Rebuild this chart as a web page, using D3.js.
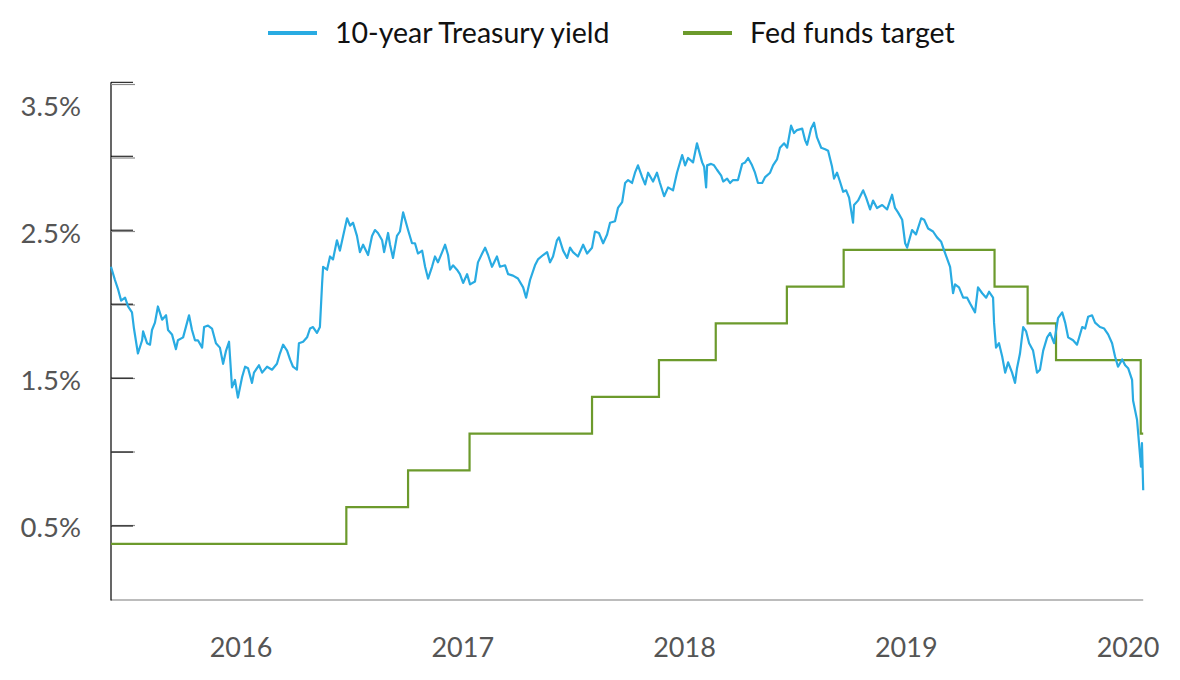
<!DOCTYPE html>
<html>
<head>
<meta charset="utf-8">
<script src="https://cdn.jsdelivr.net/npm/d3@7"></script>
<style>
html,body{margin:0;padding:0;background:#fff;}
svg{display:block;}
</style>
</head>
<body>
<svg id="chart" width="1180" height="680"></svg>
<script>
// ---- data (time as decimal years) ----
const seriesNames = ["10-year Treasury yield", "Fed funds target"];
const yearLabels = ["2016", "2017", "2018", "2019", "2020"];
const yTickValues = [0.5, 1.0, 1.5, 2.0, 2.5, 3.0, 3.5];
const yLabelValues = [0.5, 1.5, 2.5, 3.5];

const yieldTime = [
2016.000,2016.016,2016.028,2016.041,2016.057,2016.069,2016.085,2016.093,2016.109,2016.126,2016.130,2016.146,2016.158,2016.166,2016.178,2016.190,2016.207,2016.223,2016.231,2016.247,2016.263,2016.271,2016.292,2016.308,2016.316,2016.328,2016.340,2016.352,2016.369,2016.377,2016.393,2016.409,2016.425,2016.441,2016.454,2016.466,2016.478,2016.490,2016.502,2016.514,2016.531,2016.543,2016.555,2016.571,2016.579,2016.599,2016.612,2016.632,2016.652,2016.672,2016.684,2016.697,2016.713,2016.725,2016.737,2016.753,2016.761,2016.778,2016.794,2016.806,2016.818,2016.834,2016.846,2016.855,2016.859,2016.875,2016.887,2016.899,2016.915,2016.927,2016.940,2016.956,2016.968,2016.980,2016.996,
2017.008,2017.021,2017.041,2017.057,2017.069,2017.081,2017.098,2017.106,2017.122,2017.130,2017.142,2017.158,2017.170,2017.183,2017.203,2017.219,2017.231,2017.243,2017.260,2017.272,2017.284,2017.300,2017.312,2017.324,2017.341,2017.353,2017.365,2017.373,2017.385,2017.401,2017.413,2017.426,2017.442,2017.454,2017.474,2017.486,2017.503,2017.515,2017.527,2017.543,2017.563,2017.575,2017.596,2017.608,2017.628,2017.648,2017.669,2017.681,2017.697,2017.717,2017.729,2017.750,2017.766,2017.778,2017.790,2017.806,2017.814,2017.831,2017.847,2017.859,2017.871,2017.891,2017.912,2017.928,2017.948,2017.960,2017.976,2017.993,
2018.009,2018.021,2018.041,2018.053,2018.070,2018.082,2018.094,2018.110,2018.122,2018.134,2018.151,2018.163,2018.175,2018.195,2018.211,2018.223,2018.240,2018.256,2018.276,2018.292,2018.313,2018.325,2018.337,2018.357,2018.373,2018.381,2018.394,2018.402,2018.410,2018.414,2018.430,2018.442,2018.454,2018.471,2018.479,2018.495,2018.507,2018.519,2018.539,2018.556,2018.568,2018.580,2018.596,2018.608,2018.620,2018.637,2018.649,2018.669,2018.681,2018.697,2018.709,2018.726,2018.738,2018.754,2018.766,2018.778,2018.799,2018.811,2018.819,2018.835,2018.847,2018.859,2018.876,2018.892,2018.904,2018.920,2018.928,2018.940,2018.952,2018.965,2018.977,2018.989,
2019.005,2019.009,2019.025,2019.046,2019.058,2019.074,2019.086,2019.102,2019.123,2019.143,2019.163,2019.175,2019.187,2019.204,2019.216,2019.224,2019.244,2019.260,2019.281,2019.293,2019.309,2019.329,2019.345,2019.362,2019.374,2019.398,2019.410,2019.418,2019.434,2019.451,2019.467,2019.479,2019.499,2019.511,2019.528,2019.544,2019.556,2019.572,2019.576,2019.584,2019.596,2019.609,2019.621,2019.633,2019.649,2019.661,2019.669,2019.681,2019.694,2019.706,2019.718,2019.734,2019.750,2019.762,2019.775,2019.791,2019.803,2019.819,2019.835,2019.852,2019.864,2019.876,2019.896,2019.912,2019.933,2019.945,2019.957,2019.973,2019.985,
2020.005,2020.022,2020.038,2020.054,2020.066,2020.078,2020.095,2020.107,2020.119,2020.135,2020.139,2020.155,2020.163,2020.171,2020.175,2020.180
];
const yieldValue = [
2.26,2.17,2.11,2.03,2.05,1.99,1.95,1.84,1.67,1.76,1.82,1.74,1.73,1.83,1.88,1.99,1.90,1.93,1.83,1.80,1.70,1.76,1.78,1.88,1.93,1.83,1.76,1.76,1.71,1.85,1.86,1.84,1.74,1.71,1.60,1.69,1.75,1.44,1.49,1.37,1.51,1.58,1.57,1.47,1.54,1.59,1.54,1.58,1.56,1.60,1.67,1.73,1.69,1.63,1.58,1.56,1.74,1.75,1.78,1.84,1.85,1.81,1.85,2.15,2.26,2.24,2.33,2.31,2.44,2.37,2.47,2.59,2.54,2.56,2.47,
2.36,2.41,2.34,2.47,2.51,2.49,2.44,2.36,2.49,2.41,2.32,2.47,2.50,2.63,2.51,2.42,2.42,2.35,2.37,2.26,2.18,2.26,2.33,2.29,2.36,2.41,2.34,2.24,2.27,2.24,2.21,2.15,2.21,2.14,2.16,2.29,2.35,2.39,2.34,2.26,2.33,2.26,2.27,2.21,2.20,2.18,2.12,2.05,2.17,2.27,2.31,2.34,2.36,2.29,2.33,2.44,2.46,2.37,2.32,2.39,2.36,2.33,2.41,2.35,2.39,2.50,2.49,2.42,
2.48,2.56,2.57,2.66,2.70,2.83,2.85,2.83,2.90,2.95,2.87,2.82,2.90,2.84,2.90,2.83,2.74,2.80,2.78,2.90,3.02,2.95,3.00,2.97,3.10,3.05,2.97,2.94,2.80,2.95,2.96,2.95,2.92,2.88,2.84,2.86,2.83,2.85,2.85,2.96,2.97,3.00,2.95,2.90,2.83,2.83,2.87,2.90,2.95,2.99,3.07,3.10,3.07,3.22,3.17,3.19,3.20,3.12,3.09,3.20,3.24,3.14,3.07,3.06,3.05,2.94,2.86,2.90,2.84,2.77,2.78,2.73,
2.56,2.68,2.71,2.78,2.73,2.65,2.71,2.66,2.68,2.65,2.75,2.66,2.63,2.58,2.42,2.39,2.51,2.48,2.59,2.58,2.52,2.50,2.46,2.43,2.37,2.26,2.08,2.14,2.12,2.05,2.05,2.01,1.95,2.12,2.08,2.05,2.09,2.05,1.88,1.71,1.74,1.65,1.54,1.61,1.54,1.47,1.57,1.67,1.85,1.82,1.74,1.69,1.54,1.56,1.69,1.78,1.81,1.74,1.91,1.95,1.88,1.78,1.76,1.73,1.85,1.84,1.92,1.93,1.88,
1.85,1.84,1.80,1.74,1.65,1.58,1.63,1.59,1.57,1.49,1.35,1.22,1.06,0.90,1.06,0.74
];

// Fed funds target (midpoint of target range), changes at decision dates
const fedTime  = [2016.000, 2016.953, 2017.203, 2017.452, 2017.948, 2018.219, 2018.449, 2018.737, 2018.967, 2019.578, 2019.712, 2019.827, 2020.170, 2020.180];
const fedValue = [0.375, 0.625, 0.875, 1.125, 1.375, 1.625, 1.875, 2.125, 2.375, 2.125, 1.875, 1.625, 1.125, 1.125];

// ---- drawing ----
const blue = "#29abe2", green = "#6c9a2c";
const svg = d3.select("#chart");
const x = d3.scaleLinear().domain([2016, 2020.18]).range([111, 1143.2]);
const y = d3.scaleLinear().domain([0, 3.5]).range([599, 84.5]);
const yMinor = d3.scaleLinear().domain([0.5, 3.5]).range([526, 82.3]);
const xLab = d3.scalePoint().domain(yearLabels).range([241, 1128]);

// axes lines
svg.append("line").attr("x1", x.range()[0]).attr("x2", x.range()[1])
  .attr("y1", 600).attr("y2", 600).attr("stroke", "#a6a6a6").attr("stroke-width", 1.5);
svg.append("line").attr("x1", 111).attr("x2", 111)
  .attr("y1", yMinor(3.5)).attr("y2", 600.5).attr("stroke", "#000").attr("stroke-width", 1.2);

// ticks
svg.append("g").selectAll("line").data(yTickValues).join("line")
  .attr("x1", 111).attr("x2", 135).attr("y1", d => y(d)).attr("y2", d => y(d))
  .attr("stroke", "#8a8a8a").attr("stroke-width", 1.2);
svg.append("g").selectAll("line").data(yTickValues).join("line")
  .attr("x1", 111).attr("x2", 133).attr("y1", d => yMinor(d)).attr("y2", d => yMinor(d))
  .attr("stroke", "#000").attr("stroke-width", 1);

// y labels
svg.append("g").selectAll("text").data(yLabelValues).join("text")
  .attr("x", 81).attr("y", d => Math.max(y(d), 104.5) + 2).attr("dy", "0.36em")
  .attr("text-anchor", "end").attr("fill", "#555")
  .style("font-family", "Lato, sans-serif").style("font-size", "27.5px")
  .text(d => d.toFixed(1) + "%");

// x labels
svg.append("g").selectAll("text").data(yearLabels).join("text")
  .attr("x", d => xLab(d)).attr("y", 647).attr("dy", "0.36em")
  .attr("text-anchor", "middle").attr("fill", "#555")
  .style("font-family", "Lato, sans-serif").style("font-size", "27px")
  .text(d => d);

// fed funds step line
const fedData = fedTime.map((t, i) => [t, fedValue[i]]);
svg.append("path").datum(fedData)
  .attr("fill", "none").attr("stroke", green).attr("stroke-width", 2.2)
  .attr("d", d3.line().x(d => x(d[0])).y(d => y(d[1])).curve(d3.curveStepAfter));

// 10-year yield
const yData = yieldTime.map((t, i) => [t, yieldValue[i]]);
svg.append("path").datum(yData)
  .attr("fill", "none").attr("stroke", blue).attr("stroke-width", 2.2).attr("stroke-linejoin", "round")
  .attr("d", d3.line().x(d => x(d[0])).y(d => y(d[1])));

// legend
const legend = svg.append("g");
const legendItems = [
  {name: seriesNames[0], color: blue, lx: 268},
  {name: seriesNames[1], color: green, lx: 683}
];
legendItems.forEach(it => {
  legend.append("line").attr("x1", it.lx).attr("x2", it.lx + 49).attr("y1", 33).attr("y2", 33)
    .attr("stroke", it.color).attr("stroke-width", 4);
  legend.append("text").attr("x", it.lx + 67).attr("y", 33).attr("dy", "0.36em")
    .attr("fill", "#111").style("font-family", "Lato, sans-serif").style("font-size", "28.5px")
    .text(it.name);
});
</script>
</body>
</html>
